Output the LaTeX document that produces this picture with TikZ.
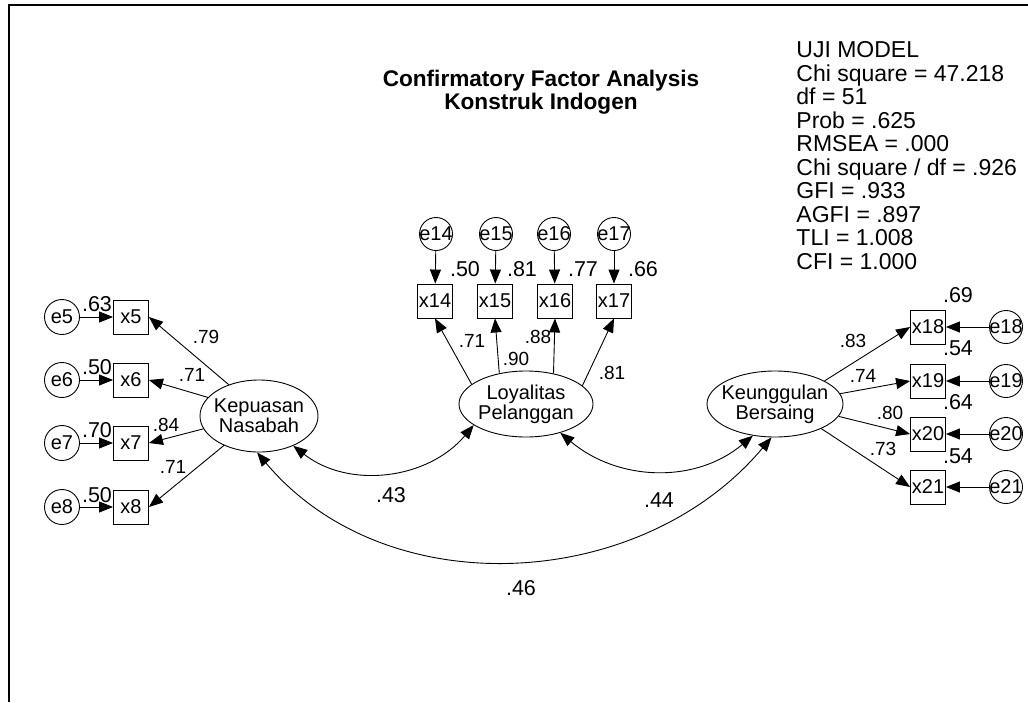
\documentclass[tikz,border=0pt]{standalone}
\usepackage{fontspec}
\setmainfont{Liberation Sans}
\usetikzlibrary{arrows.meta,shapes.geometric}

\tikzset{
  obs/.style={draw, rectangle, minimum width=35pt, minimum height=34pt, inner sep=0pt, font=\fontsize{20}{20}\selectfont},
  err/.style={draw, circle, minimum size=33pt, inner sep=-9pt, font=\fontsize{20}{20}\selectfont},
  lat/.style={draw, ellipse, inner xsep=-30pt, inner ysep=0pt, align=center, font=\fontsize{20}{20}\selectfont},
  rsq/.style={inner sep=0pt, font=\fontsize{21.5}{21.5}\selectfont},
  wt/.style={inner sep=0pt, font=\fontsize{19}{19}\selectfont},
}

\begin{document}
\begin{tikzpicture}[x=1pt, y=-1pt, line width=0.9pt, >={Triangle[length=14pt,width=11pt]}]
  \useasboundingbox (0,0) rectangle (1028,702);
  \draw[line width=2pt] (9,702) -- (9,5) -- (1028,5);

  % title and fit
  \node[font=\bfseries\fontsize{22.6}{23}\selectfont, align=center] (title) at (541,92) {Confirmatory Factor Analysis\\Konstruk Indogen};
  \node[anchor=north west, inner sep=0pt, align=left, font=\fontsize{23}{23.5}\selectfont] (fit) at (796,41) {UJI MODEL\\Chi square = 47.218\\df = 51\\Prob = .625\\RMSEA = .000\\Chi square / df = .926\\GFI = .933\\AGFI = .897\\TLI = 1.008\\CFI = 1.000};

  % latent variables
  \node[lat, minimum width=118pt, minimum height=72pt] (kep) at (259,416) {Kepuasan\\Nasabah};
  \node[lat, minimum width=134pt, minimum height=66pt] (loy) at (526,404) {Loyalitas\\Pelanggan};
  \node[lat, minimum width=136pt, minimum height=66pt] (keu) at (775,404) {Keunggulan\\Bersaing};

  % indicators
  \node[obs] (x5) at (131,317) {x5};
  \node[obs] (x6) at (131,380) {x6};
  \node[obs] (x7) at (131,443) {x7};
  \node[obs] (x8) at (131,507) {x8};
  \node[obs] (x14) at (435,301) {x14};
  \node[obs] (x15) at (495,301) {x15};
  \node[obs] (x16) at (555,301) {x16};
  \node[obs] (x17) at (614,301) {x17};
  \node[obs] (x18) at (928,327) {x18};
  \node[obs] (x19) at (928,381) {x19};
  \node[obs] (x20) at (928,434) {x20};
  \node[obs] (x21) at (928,487) {x21};

  % errors
  \node[err, minimum size=35pt] (e5) at (62,317) {e5};
  \node[err, minimum size=35pt] (e6) at (62,380) {e6};
  \node[err, minimum size=35pt] (e7) at (62,443) {e7};
  \node[err, minimum size=35pt] (e8) at (62,507) {e8};
  \node[err] (e14) at (436,234) {e14};
  \node[err] (e15) at (496,234) {e15};
  \node[err] (e16) at (554,234) {e16};
  \node[err] (e17) at (614,234) {e17};
  \node[err] (e18) at (1006,327) {e18};
  \node[err] (e19) at (1006,381) {e19};
  \node[err] (e20) at (1006,434) {e20};
  \node[err] (e21) at (1006,487) {e21};

  % error paths
  \draw[->] (e5) -- (x5);
  \draw[->] (e6) -- (x6);
  \draw[->] (e7) -- (x7);
  \draw[->] (e8) -- (x8);
  \draw[->] (e14) -- (x14);
  \draw[->] (e15) -- (x15);
  \draw[->] (e16) -- (x16);
  \draw[->] (e17) -- (x17);
  \draw[->] (e18) -- (x18);
  \draw[->] (e19) -- (x19);
  \draw[->] (e20) -- (x20);
  \draw[->] (e21) -- (x21);

  % loadings
  \draw[->] (kep.134) -- (x5.east);
  \draw[->] (kep.160) -- (x6.east);
  \draw[->] (kep.193) -- (x7.east);
  \draw[->] (kep.220) -- (x8.east);
  \draw[->] (loy.160) -- (x14.south);
  \draw[->] (loy.131) -- (x15.south);
  \draw[->] (loy.48) -- (x16.south);
  \draw[->] (loy.18) -- (x17.south);
  \draw[->] (keu.25) -- (x18.west);
  \draw[->] (keu.9) -- (x19.west);
  \draw[->] (keu.-11) -- (x20.west);
  \draw[->] (keu.-28) -- (x21.west);

  % covariances
  \draw[<->] (kep.-41) to[out=-38,in=-130] (loy.-158);
  \draw[<->] (loy.-40) to[out=-40,in=-140] (keu.-125);
  \draw[<->] (kep.-93) to[out=-50,in=-130] (keu.-96);

  % squared multiple correlations
  \node[rsq] (r5) at (97,304) {.63};
  \node[rsq] (r6) at (97,367) {.50};
  \node[rsq] (r7) at (97,430) {.70};
  \node[rsq] (r8) at (97,495) {.50};
  \node[rsq] (r14) at (465,269) {.50};
  \node[rsq] (r15) at (522,269) {.81};
  \node[rsq] (r16) at (583,269) {.77};
  \node[rsq] (r17) at (643,269) {.66};
  \node[rsq] (r18) at (958,295) {.69};
  \node[rsq] (r19) at (958,348) {.54};
  \node[rsq] (r20) at (958,402) {.64};
  \node[rsq] (r21) at (958,456) {.54};

  % loading weights
  \node[wt] (w5) at (206,337) {.79};
  \node[wt] (w6) at (192,375) {.71};
  \node[wt] (w7) at (166,425) {.84};
  \node[wt] (w8) at (173,467) {.71};
  \node[wt] (w14) at (472,341) {.71};
  \node[wt] (w15) at (516,359) {.90};
  \node[wt] (w16) at (538,337) {.88};
  \node[wt] (w17) at (612,373) {.81};
  \node[wt] (w18) at (853,341) {.83};
  \node[wt] (w19) at (863,376) {.74};
  \node[wt] (w20) at (890,413) {.80};
  \node[wt] (w21) at (883,449) {.73};

  % correlations
  \node[rsq] (c43) at (391,495) {.43};
  \node[rsq] (c44) at (659,500) {.44};
  \node[rsq] (c46) at (521,588) {.46};
\end{tikzpicture}
\end{document}
